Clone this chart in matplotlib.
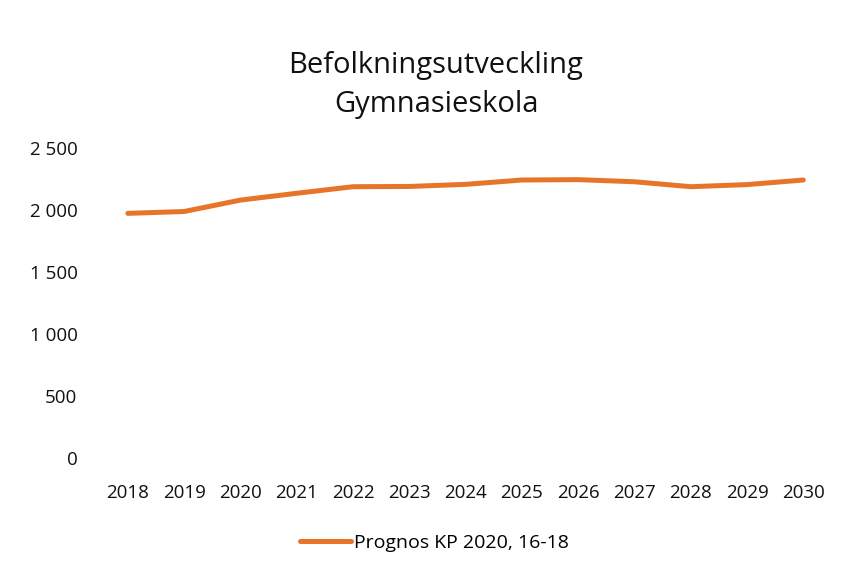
import matplotlib.pyplot as plt
from matplotlib.ticker import FuncFormatter

years = ['2018', '2019', '2020', '2021', '2022', '2023', '2024',
         '2025', '2026', '2027', '2028', '2029', '2030']
prognos = [1973, 1988, 2080, 2135, 2188, 2190, 2207,
           2242, 2245, 2228, 2188, 2205, 2242]
series_label = 'Prognos KP 2020, 16-18'
title = 'Befolkningsutveckling\nGymnasieskola'

plt.rcParams['font.family'] = ['Open Sans', 'DejaVu Sans']

fig = plt.figure(figsize=(8.45, 5.76), dpi=100)
ax = fig.add_axes([0.118, 0.205, 0.866, 0.538])

x = list(range(len(years)))
line, = ax.plot(x, prognos, color='#E8742A', lw=3.6, solid_capstyle='round',
                label=series_label)

ax.set_xlim(-0.5, len(years) - 0.5)
ax.set_ylim(0, 2500)
ax.set_yticks([0, 500, 1000, 1500, 2000, 2500])
ax.yaxis.set_major_formatter(FuncFormatter(lambda v, p: f'{int(v):,}'.replace(',', ' ')))
ax.set_xticks(x)
ax.set_xticklabels(years)
for s in ax.spines.values():
    s.set_visible(False)
ax.tick_params(length=0, labelsize=13.5, colors='#111111')
ax.tick_params(axis='y', pad=16)
ax.tick_params(axis='x', pad=19)

fig.text(0.516, 0.852, title, ha='center', va='center', fontsize=21,
         color='#111111', linespacing=1.45)

fig.legend(handles=[line], loc='center', bbox_to_anchor=(0.514, 0.057),
           frameon=False, fontsize=14, handlelength=2.6, handletextpad=0.15)

fig.savefig('out.png', dpi=100, facecolor='white')
